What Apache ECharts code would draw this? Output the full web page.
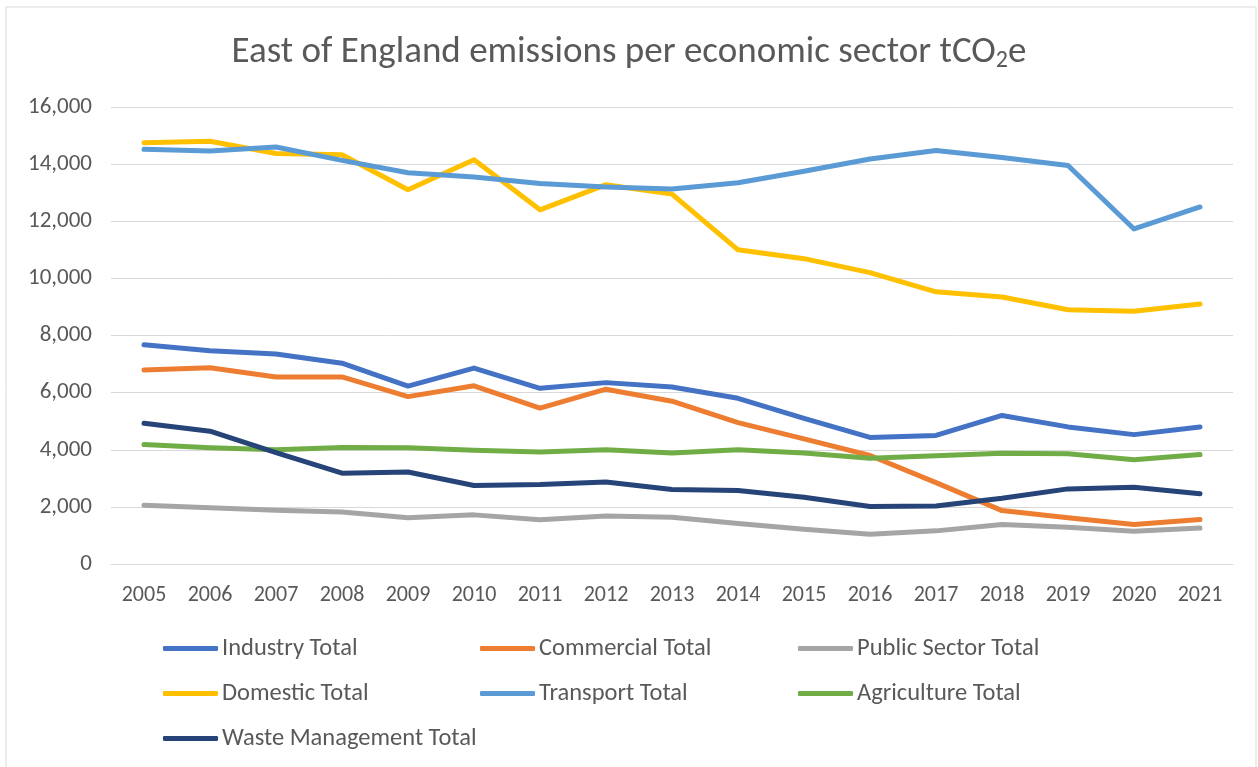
<!DOCTYPE html>
<html>
<head>
<meta charset="utf-8">
<script src="https://cdn.jsdelivr.net/npm/echarts@6/dist/echarts.min.js"></script>
<style>html,body{margin:0;padding:0;background:#fff}#c{width:1258px;height:767px}</style>
</head>
<body>
<div id="c"></div>
<script>
const years = ['2005','2006','2007','2008','2009','2010','2011','2012','2013','2014','2015','2016','2017','2018','2019','2020','2021'];
const industry    = [7680,7470,7350,7030,6230,6860,6150,6350,6200,5800,5100,4430,4500,5200,4800,4530,4800];
const commercial  = [6790,6870,6550,6550,5860,6240,5460,6120,5700,4950,4380,3800,2850,1870,1620,1380,1560];
const publicSector= [2060,1970,1880,1820,1620,1720,1550,1680,1640,1420,1220,1040,1160,1380,1285,1150,1260];
const domestic    = [14750,14800,14370,14330,13100,14150,12400,13280,12950,11000,10690,10200,9530,9350,8900,8850,9100];
const transport   = [14520,14460,14600,14130,13700,13550,13320,13200,13130,13350,13750,14180,14480,14230,13950,11730,12500];
const agriculture = [4180,4070,4000,4080,4070,3980,3920,4000,3890,4000,3890,3700,3790,3880,3860,3650,3830];
const waste       = [4930,4650,3900,3180,3220,2750,2780,2870,2610,2570,2340,2010,2030,2300,2630,2690,2460];
const seriesNames = ['Industry Total','Commercial Total','Public Sector Total','Domestic Total','Transport Total','Agriculture Total','Waste Management Total'];
const seriesData = [industry, commercial, publicSector, domestic, transport, agriculture, waste];
const colors = ['#4472C4','#ED7D31','#A5A5A5','#FFC000','#5B9BD5','#70AD47','#264478'];

const font = 'Carlito, "Liberation Sans Narrow", "Open Sans", sans-serif';
const chart = echarts.init(document.getElementById('c'));
const legendBase = {
  orient: 'vertical', top: 631, itemWidth: 55, itemHeight: 5, itemGap: 20,
  icon: 'roundRect', textStyle: {color: '#595959', fontSize: 24.5, fontFamily: font, padding: [0,0,0,-1]}
};
chart.setOption({
  animation: false,
  color: colors,
  graphic: [{type: 'rect', shape: {x: 6, y: 7, width: 1250, height: 800}, style: {fill: 'none', stroke: '#d9d9d9', lineWidth: 1}}],
  title: {
    text: 'East of England emissions per economic sector tCO{s|2}e',
    left: 'center', top: 28,
    textStyle: {color: '#595959', fontSize: 37, fontWeight: 'normal', fontFamily: font,
      rich: {s: {fontSize: 24, color: '#595959', fontFamily: font, padding: [16,0,0,0], verticalAlign: 'bottom'}}}
  },
  legend: [
    Object.assign({}, legendBase, {left: 158, data: [seriesNames[0], seriesNames[3], seriesNames[6]]}),
    Object.assign({}, legendBase, {left: 475, data: [seriesNames[1], seriesNames[4]]}),
    Object.assign({}, legendBase, {left: 793, data: [seriesNames[2], seriesNames[5]]})
  ],
  grid: {left: 111, right: 25, top: 107, bottom: 203},
  xAxis: {
    type: 'category', data: years, boundaryGap: true,
    axisLine: {lineStyle: {color: '#d9d9d9', width: 1}},
    axisTick: {show: false},
    axisLabel: {color: '#595959', fontSize: 22, fontFamily: font, margin: 20}
  },
  yAxis: {
    type: 'value', min: 0, max: 16000, interval: 2000,
    axisLine: {show: false}, axisTick: {show: false},
    splitLine: {lineStyle: {color: '#d9d9d9', width: 1}},
    axisLabel: {color: '#595959', fontSize: 23, fontFamily: font, margin: 19,
      formatter: v => v.toLocaleString('en-US')}
  },
  series: seriesNames.map((n, i) => ({
    name: n, type: 'line', data: seriesData[i], showSymbol: false, symbol: 'none',
    lineStyle: {width: 5, color: colors[i], cap: 'round', join: 'round'},
    itemStyle: {color: colors[i]}
  }))
});
</script>
</body>
</html>
